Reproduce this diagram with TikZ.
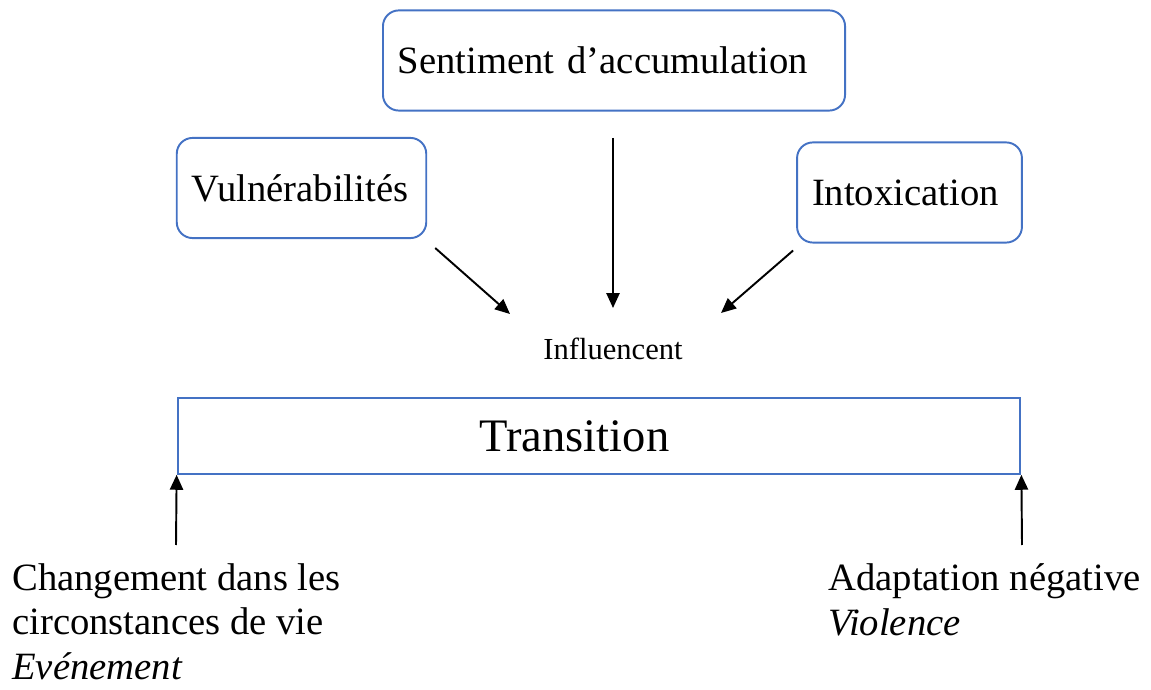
\documentclass[tikz,border=0pt]{standalone}
\usepackage{fontspec}
\setmainfont{Liberation Serif}
\usetikzlibrary{arrows.meta, positioning}

\definecolor{boxblue}{RGB}{68,114,196}

\begin{document}
\begin{tikzpicture}[
    x=0.02cm, y=0.02cm,
    every node/.style={font=\fontsize{22pt}{25.5pt}\selectfont},
    box/.style={draw=boxblue, line width=1.1pt, rounded corners=9pt,
                align=left, inner xsep=8.5pt, text width=#1,
                minimum height=57pt},
    arrow/.style={-{Triangle[length=8.5pt,width=7.5pt]}, line width=1.1pt}
]
\useasboundingbox (0,0) rectangle (1151,689);

% Nodes
\node[box=246pt] (sent) at (614,628.5) {Sentiment d'accumulation};
\node[box=125pt] (vuln) at (301.5,501) {Vulnérabilités};
\node[box=111pt] (intox) at (909.5,496.5) {Intoxication};

\node[font=\fontsize{17.4pt}{20pt}\selectfont] (infl) at (613,340) {Influencent};

\node[draw=boxblue, line width=1.1pt, minimum width=479.7pt, minimum height=43.1pt,
      font=\fontsize{26.5pt}{30pt}\selectfont] (trans) at (599,253) {Transition\hspace*{28pt}};

\node[anchor=north west, align=left, inner sep=0pt] (chg) at (12,126)
    {Changement dans les\\circonstances de vie\\\textit{Evénement}};
\node[anchor=north west, align=left, inner sep=0pt] (adapt) at (828,126)
    {Adaptation négative\\\textit{Violence}};

% Arrow ends
\coordinate (vl) at ([shift={(8,-9)}]vuln.south east);
\coordinate (il) at (510,375);
\coordinate (sm) at (613,551);
\coordinate (im) at (613,381);
\coordinate (xr) at ([shift={(-3,-7)}]intox.south west);
\coordinate (ir) at (721,376);
\coordinate (cl) at (176,144);
\coordinate (cr) at (1022,144);

% Arrows into Influencent
\draw[arrow] (vl) -- (il);
\draw[arrow] (sm) -- (im);
\draw[arrow] (xr) -- (ir);

% Arrows up to Transition
\draw[arrow] (cl) -- (trans.south west);
\draw[arrow] (cr) -- (trans.south east);

\end{tikzpicture}
\end{document}
